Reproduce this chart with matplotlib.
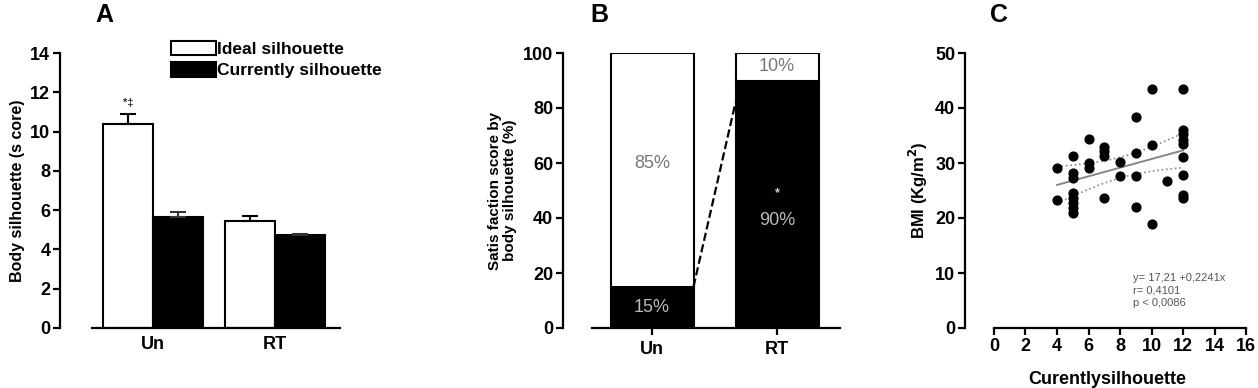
import numpy as np
import matplotlib
matplotlib.use("Agg")
import matplotlib.pyplot as plt

plt.rcParams['font.family'] = ['Liberation Sans', 'DejaVu Sans']
plt.rcParams['font.weight'] = 'bold'

# panel A data
groups = ['Un', 'RT']
ideal = [10.4, 5.45]
ideal_err = [0.5, 0.25]
current = [5.65, 4.75]
current_err = [0.25, 0.05]

# panel B data
satisfied = [15, 90]
unsatisfied = [85, 10]

# panel C data
sil_x = [4, 4, 5, 5, 5, 5, 5, 5, 5, 5, 6, 6, 6, 7, 7, 7, 7, 8, 8,
         9, 9, 9, 9, 10, 10, 10, 11, 12, 12, 12, 12, 12, 12, 12, 12, 12]
bmi_y = [29.1, 23.2, 31.2, 28.2, 27.3, 24.5, 23.6, 22.7, 21.8, 20.9, 34.4, 30.0, 29.1,
         33.0, 32.1, 31.2, 23.6, 30.1, 27.6, 38.4, 31.8, 27.6, 22.0, 43.5, 33.2, 19.0,
         26.7, 43.5, 36.0, 35.2, 34.2, 33.5, 31.1, 27.9, 24.2, 23.6]

W, H = 1258, 388
fig = plt.figure(figsize=(W / 100, H / 100), dpi=100)


def axes_px(x0, x1, y_top, y_bot):
    return fig.add_axes([x0 / W, 1 - y_bot / H, (x1 - x0) / W, (y_bot - y_top) / H])


def style(ax):
    for s in ['top', 'right']:
        ax.spines[s].set_visible(False)
    for s in ['left', 'bottom']:
        ax.spines[s].set_linewidth(1.6)
    ax.tick_params(width=1.6, length=5, labelsize=13, pad=2)


# ---------- A ----------
axA = axes_px(60, 340, 53, 328)
style(axA)
xs = np.arange(len(groups))
bw = 0.41
ekw = dict(capsize=6, capthick=1.5, elinewidth=1.5)
axA.bar(xs - bw / 2, ideal, bw, yerr=[[0] * len(ideal), ideal_err], color='white',
        edgecolor='black', lw=1.5, error_kw=ekw, label='Ideal silhouette')
axA.bar(xs + bw / 2, current, bw, yerr=[[0] * len(current), current_err], color='black',
        edgecolor='black', lw=1.5, error_kw=dict(ekw, ecolor='#333333'),
        label='Currently silhouette')
axA.set_xlim(-0.762, 1.533)
axA.set_ylim(0, 14)
axA.spines['bottom'].set_bounds(-0.5, 1.533)
axA.set_yticks(range(0, 15, 2))
axA.set_xticks(xs)
axA.set_xticklabels(groups)
axA.tick_params(axis='x', length=0, pad=6)
axA.set_ylabel('Body silhouette (s core)', fontsize=11.5, fontweight='bold', labelpad=4)
axA.text(-bw / 2, 11.2, '*‡', ha='center', va='bottom', fontsize=8, color='#333333')
axA.legend(loc='upper left', bbox_to_anchor=(0.37, 1.07), frameon=False, fontsize=12.5,
           handlelength=2.6, handleheight=0.9, handletextpad=0.1, labelspacing=0.3,
           borderaxespad=0)
fig.text(95 / W, 1 - 15 / H, 'A', fontsize=18, fontweight='bold', va='center')

# ---------- B ----------
axB = axes_px(563, 840, 53, 328)
style(axB)
bwB = 0.664
axB.bar(xs, satisfied, bwB, color='black', edgecolor='black', lw=1.5)
axB.bar(xs, unsatisfied, bwB, bottom=satisfied, color='white', edgecolor='black', lw=1.5)
axB.set_xlim(-0.712, 1.504)
axB.set_ylim(0, 100)
axB.spines['bottom'].set_bounds(-0.48, 1.504)
axB.set_yticks(range(0, 101, 20))
axB.set_xticks(xs)
axB.set_xticklabels(groups)
axB.tick_params(axis='x', pad=4)
axB.set_ylabel('Satis faction score by\nbody silhouette (%)', fontsize=11, fontweight='bold',
               linespacing=1.1)
for i in range(len(groups)):
    axB.text(xs[i], satisfied[i] / 2 if i == 0 else 39, f'{satisfied[i]}%', ha='center',
             va='center', color='#bbbbbb', fontsize=13, fontweight='normal')
    axB.text(xs[i], satisfied[i] + unsatisfied[i] / 2 if i == 1 else 60,
             f'{unsatisfied[i]}%', ha='center', va='center', color='#777777', fontsize=13,
             fontweight='normal')
axB.text(xs[1], 49, '*', ha='center', va='center', color='#cccccc', fontsize=9)
axB.plot([xs[0] + bwB / 2, xs[1] - bwB / 2], [satisfied[0], 82], ls='--', color='black', lw=1.6)
fig.text(590 / W, 1 - 15 / H, 'B', fontsize=18, fontweight='bold', va='center')

# ---------- C ----------
axC = axes_px(965, 1250, 53, 328)
style(axC)
x = np.array(sil_x, float)
y = np.array(bmi_y, float)
axC.scatter(x, y, s=40, color='black', zorder=3)
slope, icpt = np.polyfit(x, y, 1)
xf = np.linspace(x.min(), x.max(), 50)
yf = icpt + slope * xf
n = len(x)
resid = y - (icpt + slope * x)
se = np.sqrt(np.sum(resid ** 2) / (n - 2))
ci = 2.03 * se * np.sqrt(1 / n + (xf - x.mean()) ** 2 / np.sum((x - x.mean()) ** 2))
axC.plot(xf, yf, color='#888888', lw=1.4)
axC.plot(xf, yf + ci, color='#888888', lw=1.2, ls=':')
axC.plot(xf, yf - ci, color='#888888', lw=1.2, ls=':')
axC.set_xlim(-1.84, 16.25)
axC.set_ylim(0, 50)
axC.spines['bottom'].set_bounds(0, 16)
axC.set_xticks(range(0, 17, 2))
axC.set_yticks(range(0, 51, 10))
axC.set_xlabel('Curentlysilhouette', fontsize=13, fontweight='bold', labelpad=12)
axC.set_ylabel('BMI (Kg/m$^\\mathbf{2}$)', fontsize=12, fontweight='bold')
axC.text(8.8, 10, 'y= 17,21 +0,2241x\nr= 0,4101\np < 0,0086', fontsize=8,
         fontweight='normal', color='#555555', va='top', linespacing=1.3)
fig.text(990 / W, 1 - 15 / H, 'C', fontsize=18, fontweight='bold', va='center')

fig.savefig('out.png', dpi=100)
